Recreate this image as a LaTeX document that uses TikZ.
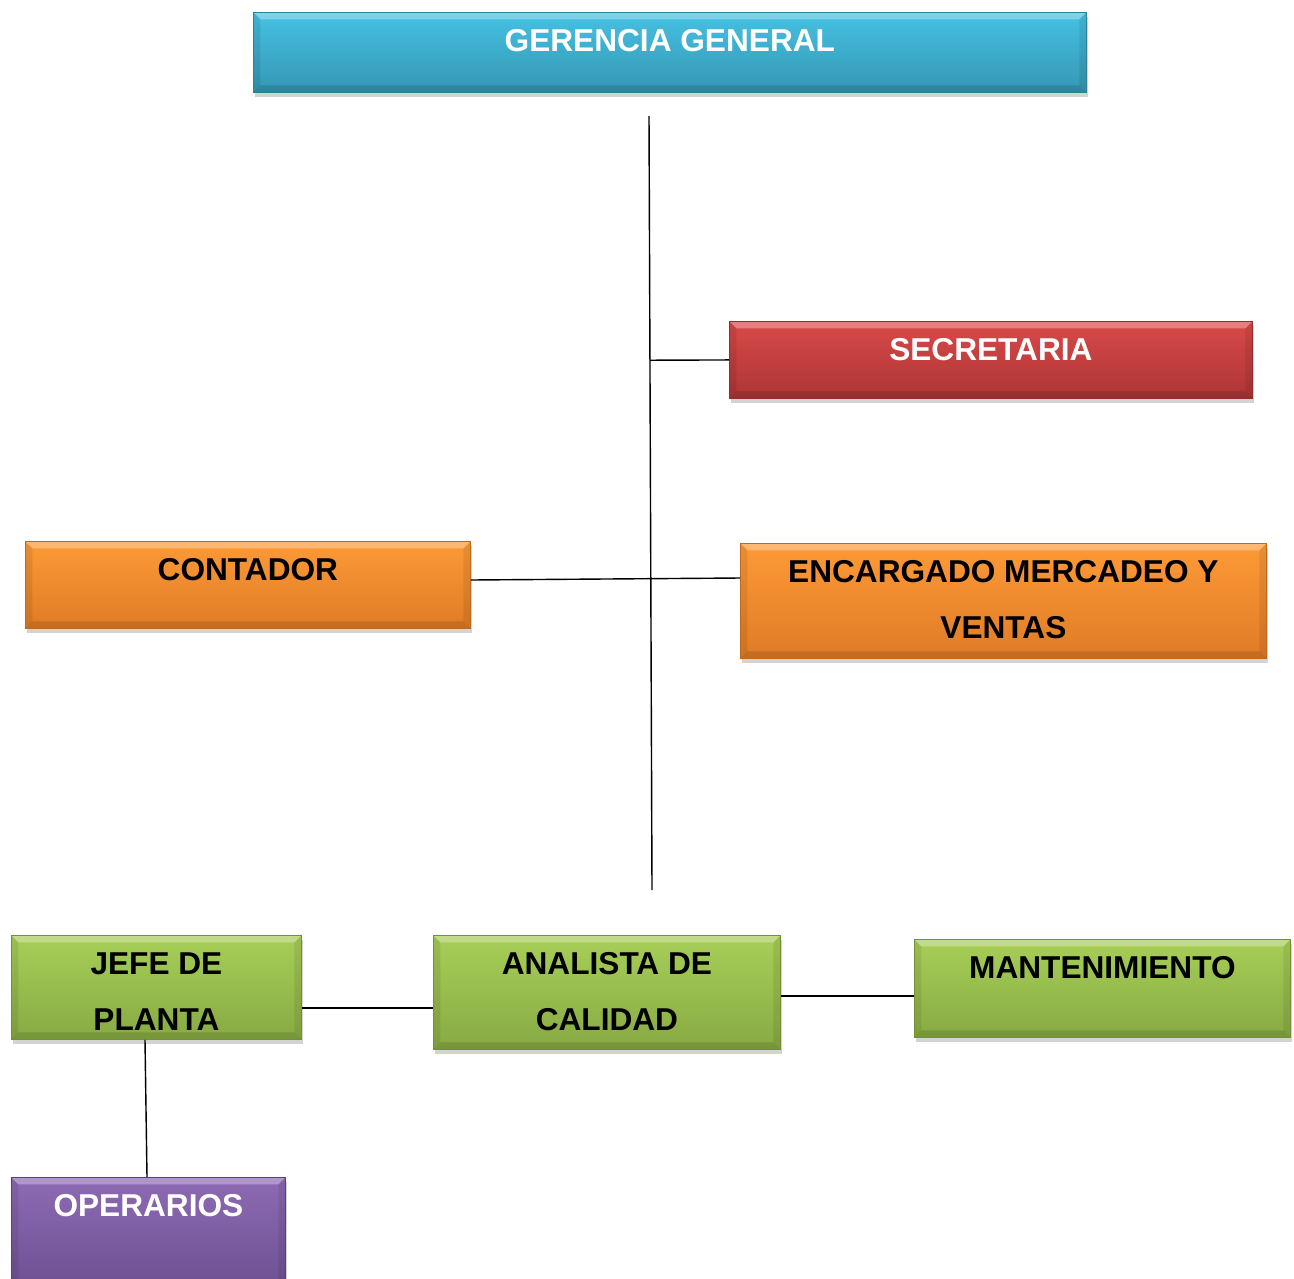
\documentclass[tikz,border=0pt]{standalone}
\usepackage{fontspec}
\setmainfont{Liberation Sans}
\usetikzlibrary{positioning,calc,shadows}

\definecolor{cianA}{HTML}{46C1E3}
\definecolor{cianB}{HTML}{3497B3}
\definecolor{rojoA}{HTML}{D94949}
\definecolor{rojoB}{HTML}{AD3535}
\definecolor{naranjaA}{HTML}{FD9A36}
\definecolor{naranjaB}{HTML}{DF7B26}
\definecolor{verdeA}{HTML}{A7CF57}
\definecolor{verdeB}{HTML}{87AA43}
\definecolor{moradoA}{HTML}{8D6BB4}
\definecolor{moradoB}{HTML}{684B8C}

\tikzset{
  caja/.style 2 args={anchor=north west, inner sep=0pt, draw=#2!85!black,
    line width=0.5pt, top color=#1, bottom color=#2,
    drop shadow={shadow xshift=1pt, shadow yshift=-2.5pt, opacity=0.35},
    bisel},
  bisel/.style={path picture={
      \path (path picture bounding box.north west) coordinate (b1)
            (path picture bounding box.north east) coordinate (b2)
            (path picture bounding box.south east) coordinate (b3)
            (path picture bounding box.south west) coordinate (b4);
      \fill[white, opacity=.3] (b1) -- (b2) -- ($(b2)+(-7,7)$) -- ($(b1)+(7,7)$) -- cycle;
      \fill[black, opacity=.12] (b4) -- (b3) -- ($(b3)+(-7,-7)$) -- ($(b4)+(7,-7)$) -- cycle;
      \fill[black, opacity=.08] (b2) -- (b3) -- ($(b3)+(-7,-7)$) -- ($(b2)+(-7,7)$) -- cycle;
      \fill[black, opacity=.08] (b1) -- (b4) -- ($(b4)+(7,-7)$) -- ($(b1)+(7,7)$) -- cycle;
    }},
  texto/.style={anchor=north, yshift=-0.34cm, inner sep=0pt, align=center,
    font=\bfseries\fontsize{18}{32}\selectfont},
  linea/.style={draw=black, line width=0.8pt}
}

\begin{document}
\begin{tikzpicture}[x=0.02cm, y=-0.02cm]
    \useasboundingbox (0,0) rectangle (1294,1278);

    % ---- Gerencia y staff ----
    \node[caja={cianA}{cianB}, minimum width=16.66cm, minimum height=1.60cm,
      label={[texto, text=white]north:GERENCIA GENERAL}] (ger) at (253,12) {};
    \node[caja={rojoA}{rojoB}, minimum width=10.46cm, minimum height=1.54cm,
      label={[texto, text=white]north:SECRETARIA}] (sec) at (729,321) {};
    \node[caja={naranjaA}{naranjaB}, minimum width=8.90cm, minimum height=1.74cm,
      label={[texto]north:CONTADOR}] (cont) at (25,541) {};
    \node[caja={naranjaA}{naranjaB}, minimum width=10.52cm, minimum height=2.30cm,
      label={[texto]north:ENCARGADO MERCADEO Y\\VENTAS}] (enc) at (740,543) {};

    % ---- Produccion ----
    \node[caja={verdeA}{verdeB}, minimum width=5.80cm, minimum height=2.08cm,
      label={[texto]north:JEFE DE\\PLANTA}] (jefe) at (11,935) {};
    \node[caja={verdeA}{verdeB}, minimum width=6.94cm, minimum height=2.28cm,
      label={[texto]north:ANALISTA DE\\CALIDAD}] (ana) at (433,935) {};
    \node[caja={verdeA}{verdeB}, minimum width=7.52cm, minimum height=1.96cm,
      label={[texto]north:MANTENIMIENTO}] (mant) at (914,939) {};
    \node[caja={moradoA}{moradoB}, minimum width=5.48cm, minimum height=2.60cm,
      label={[texto, text=white]north:OPERARIOS}] (op) at (11,1177) {};

    % ---- Lineas ----
    \coordinate (tronco1) at (649,116);
    \coordinate (tronco2) at (652,890);
    \draw[linea] (tronco1) -- (tronco2);
    \draw[linea] (sec.west) -- ($(tronco1)!(sec.west)!(tronco2)$);
    \draw[linea] ($(cont.north east)+(0,39)$) -- ($(enc.north west)+(0,35)$);
    \draw[linea] ($(jefe.north east)+(0,73)$) -- ($(ana.north west)+(0,73)$);
    \draw[linea] ($(ana.north east)+(0,61)$) -- ($(mant.north west)+(0,57)$);
    \draw[linea] ($(jefe.south west)+(134,0)$) -- ($(op.north west)+(136,0)$);
\end{tikzpicture}
\end{document}
